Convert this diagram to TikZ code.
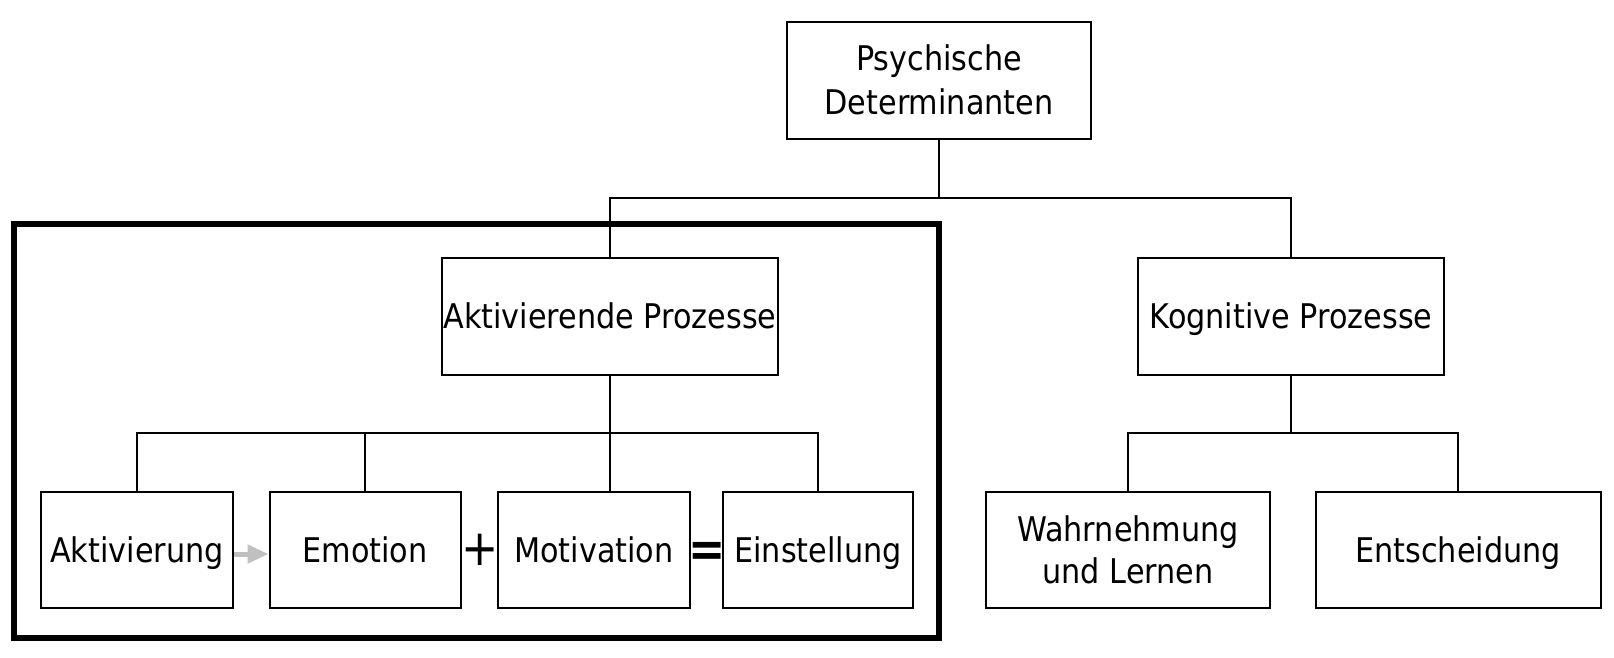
\documentclass[tikz,border=0pt]{standalone}
\usepackage{fontspec}
\setmainfont{DejaVu Sans}[FakeStretch=0.89]
\usetikzlibrary{arrows.meta}
\definecolor{arrowgray}{RGB}{192,192,192}
\begin{document}
\begin{tikzpicture}[x=1pt,y=-1pt,
  box/.style={draw, line width=2pt, inner sep=0pt, align=center,
    font=\fontsize{34}{42}\selectfont},
  onebox/.style={box, text height=25pt, text depth=0pt},
  conn/.style={draw, line width=2pt},
  grpframe/.style={draw, line width=6pt, inner sep=0pt},
  opsign/.style={inner sep=0pt}]
\useasboundingbox[fill=white] (0,0) rectangle (1614,657);
% group frame
\node[grpframe, minimum width=925pt, minimum height=414pt] (grp) at (476.5,431) {};
% boxes
\node[box, minimum width=304pt, minimum height=117pt, font=\fontsize{34}{44}\selectfont] (psy) at (939,80) {Psychische\\Determinanten};
\node[onebox, minimum width=336pt, minimum height=117pt] (akt) at (610,316) {Aktivierende Prozesse};
\node[onebox, minimum width=306pt, minimum height=117pt] (kog) at (1291,316) {Kognitive Prozesse};
\node[onebox, minimum width=192pt, minimum height=116pt] (aktv) at (137,549.5) {Aktivierung};
\node[onebox, minimum width=191pt, minimum height=116pt] (emo) at (365,549.5) {Emotion};
\node[onebox, minimum width=192pt, minimum height=116pt] (mot) at (594,549.5) {Motivation};
\node[onebox, minimum width=190pt, minimum height=116pt] (ein) at (818,549.5) {Einstellung};
\node[box, minimum width=284pt, minimum height=116pt] (wahr) at (1128,550) {Wahrnehmung\\und Lernen};
\node[onebox, minimum width=285pt, minimum height=116pt] (ent) at (1458,550) {Entscheidung};
% bus levels
\coordinate (b1) at (0,198);
\coordinate (b2) at (0,433);
\coordinate (ay) at (0,554);
% connectors
\draw[conn] (psy.south) -- (psy.south |- b1);
\draw[conn] (akt.north) |- (psy.south |- b1) -| (kog.north);
\draw[conn] (akt.south) -- (akt.south |- mot.north);
\draw[conn] (aktv.north) |- (akt.south |- b2) -| (ein.north);
\draw[conn] (emo.north) -- (emo.north |- b2);
\draw[conn] (kog.south) -- (kog.south |- b2);
\draw[conn] (wahr.north) |- (kog.south |- b2) -| (ent.north);
% gray arrow
\draw[arrowgray, line width=5pt, -{Triangle[length=21pt,width=18pt]}] (aktv.east |- ay) -- (emo.west |- ay);
% signs
\node[opsign, font=\fontsize{50}{50}\selectfont] (plus) at (480.5,549.5) {+};
\node[opsign, font=\fontsize{50}{50}\selectfont\bfseries] (eq) at (707,554.5) {=};
\end{tikzpicture}
\end{document}
